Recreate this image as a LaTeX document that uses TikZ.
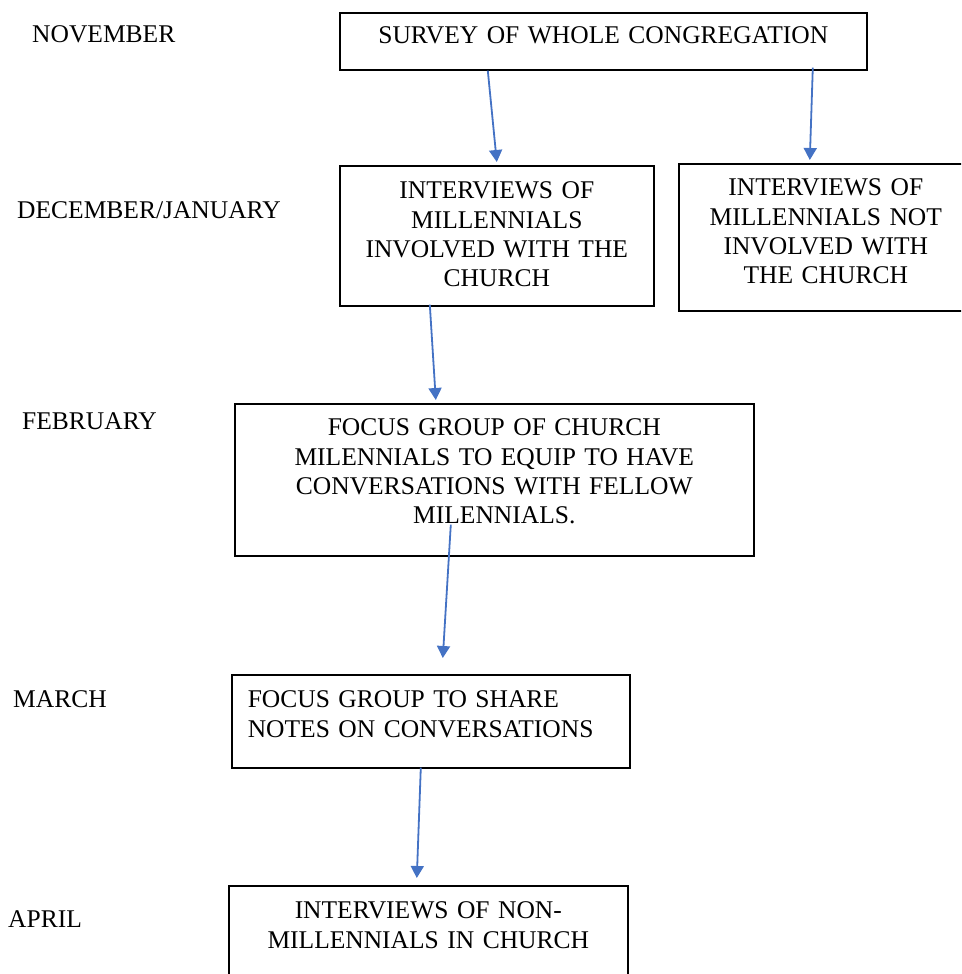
\documentclass[tikz,border=0pt]{standalone}
\usepackage{xcolor}
\usepackage{fontspec}
\setmainfont{Liberation Serif}
\usepackage{tikz}
\usetikzlibrary{arrows.meta}

\definecolor{flowblue}{RGB}{68,114,196}
\newcommand{\planfont}{\fontsize{25.5}{29.3}\selectfont}

\begin{document}
\begin{tikzpicture}[x=1pt, y=-1pt,
    stagebox/.style={draw, line width=1.6pt, rectangle, inner sep=0pt,
      anchor=north west, align=center, font=\planfont},
    month/.style={anchor=base west, inner sep=0pt, font=\planfont},
    flow/.style={flowblue, line width=1.8pt, -{Triangle[width=13pt,length=12pt]}}]
      \useasboundingbox (0,0) rectangle (961,974);
      \clip (0,0) rectangle (961,974);

      % Months
      \node[month] (nov) at (32,43) {NOVEMBER};
      \node[month] (decjan) at (17,218) {DECEMBER/JANUARY};
      \node[month] (feb) at (22,429) {FEBRUARY};
      \node[month] (mar) at (13,707) {MARCH};
      \node[month] (apr) at (8,927) {APRIL};

      % Stages
      \node[stagebox, text width=527pt, text height=31pt, text depth=26pt] (survey) at (339,12)
        {SURVEY OF WHOLE CONGREGATION};
      \node[stagebox, text width=314pt, text height=33pt, text depth=107pt] (invol) at (339,165)
        {INTERVIEWS OF\\ MILLENNIALS\\ INVOLVED WITH THE\\ CHURCH};
      \node[stagebox, text width=294pt, text height=32pt, text depth=115pt] (notinv) at (678,163)
        {INTERVIEWS OF\\ MILLENNIALS NOT\\ INVOLVED WITH\\ THE CHURCH};
      \node[stagebox, text width=519pt, text height=32pt, text depth=120pt] (focus) at (234,403)
        {FOCUS GROUP OF CHURCH\\ MILENNIALS TO EQUIP TO HAVE\\ CONVERSATIONS WITH FELLOW\\ MILENNIALS.};
      \node[stagebox, align=left, inner xsep=16pt, text width=366pt, text height=33pt, text depth=60pt] (share) at (231,674)
        {FOCUS GROUP TO SHARE\\ NOTES ON CONVERSATIONS};
      \node[stagebox, text width=399pt, text height=33pt, text depth=120pt] (nonmil) at (228,885)
        {INTERVIEWS OF NON-\\ MILLENNIALS IN CHURCH};

      % Arrows
      \draw[flow] ([xshift=-115.5pt]survey.south) -- ([yshift=3pt]invol.north);
      \draw[flow] ([xshift=209.5pt, yshift=3pt]survey.south) -- ([xshift=-16pt, yshift=3pt]notinv.north);
      \draw[flow] ([xshift=-67pt, yshift=2pt]invol.south) -- ([xshift=-58.5pt, yshift=3pt]focus.north);
      \draw[flow] ([xshift=-43.5pt, yshift=32pt]focus.south) -- ([xshift=12pt, yshift=16pt]share.north);
      \draw[flow] ([xshift=-10pt, yshift=1pt]share.south) -- ([xshift=-11.5pt, yshift=7pt]nonmil.north);
\end{tikzpicture}
\end{document}
